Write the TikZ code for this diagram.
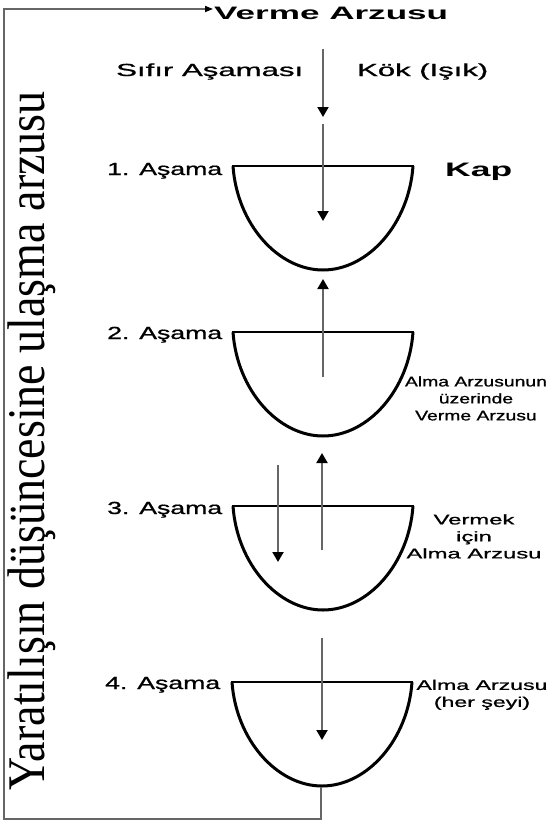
\documentclass[tikz,border=0pt]{standalone}
\usepackage{fontspec}
\setmainfont{Liberation Sans}
\newfontfamily\heavysans[FakeBold=0.8]{Liberation Sans}
\newfontfamily\serifrot{Liberation Serif}
\usetikzlibrary{arrows.meta}
\newcommand{\wbox}[2]{\resizebox{#1}{\height}{#2}}
\newcommand{\drawcup}[2]{%
  \draw[cupline] (#1-90,#2) .. controls (#1-86,#2+58) and (#1-45,#2+104) .. (#1,#2+104)
     .. controls (#1+45,#2+104) and (#1+86,#2+58) .. (#1+90,#2);
  \draw[rimline] (#1-91,#2) -- (#1+91,#2);}
\begin{document}
\begin{tikzpicture}[x=1pt,y=-1pt,
  cupline/.style={line width=3pt,black},
  rimline/.style={line width=2pt,black},
  flow/.style={draw=black!60,line width=2pt,-{Triangle[length=10pt,width=11pt,color=black]}},
  frameline/.style={draw=black!60,line width=1.5pt},
  lab/.style={inner sep=0pt,font=\heavysans\fontsize{17.5}{20}\selectfont},
  small/.style={inner sep=0pt,font=\heavysans\fontsize{14}{17}\selectfont}]
\fill[white] (0,0) rectangle (549,822);
\useasboundingbox (0,0) rectangle (549,822);

% cups
\drawcup{323}{166}
\drawcup{323}{332}
\drawcup{323}{506}
\drawcup{322}{682}

% coordinates
\coordinate (a0s) at (323,49);
\coordinate (a0e) at (323,117);
\coordinate (a1s) at (323,124);
\coordinate (a1e) at (323,221);
\coordinate (a2s) at (323,377);
\coordinate (a2e) at (323,279);
\coordinate (a3s) at (278,465);
\coordinate (a3e) at (278,562);
\coordinate (a4s) at (322,550);
\coordinate (a4e) at (322,453);
\coordinate (a5s) at (322,638);
\coordinate (a5e) at (322,740);
\coordinate (c4b) at (321,787);
\coordinate (fbr) at (321,819);
\coordinate (fbl) at (4,819);
\coordinate (ftl) at (4,9);
\coordinate (ftip) at (213,9);

% arrows
\draw[flow] (a0s) -- (a0e);
\draw[flow] (a1s) -- (a1e);
\draw[flow] (a2s) -- (a2e);
\draw[flow] (a3s) -- (a3e);
\draw[flow] (a4s) -- (a4e);
\draw[flow] (a5s) -- (a5e);

% frame
\draw[frameline,-{Triangle[length=8pt,width=6pt,color=black]}] (c4b) -- (fbr) -- (fbl) -- (ftl) -- (ftip);

% labels
\node[lab,anchor=base west,font=\rmfamily\bfseries\fontsize{18}{20}\selectfont] (title) at (214,19) {\wbox{234pt}{Verme Arzusu}};
\node[lab,anchor=base west] (zero) at (116,76) {\wbox{187pt}{Sıfır Aşaması}};
\node[lab,anchor=base west] (root) at (357,76) {\wbox{131pt}{Kök (Işık)}};
\node[lab,anchor=base west] (s1) at (107,175) {\wbox{115pt}{1. Aşama}};
\node[lab,anchor=base west] (s2) at (107,339) {\wbox{115pt}{2. Aşama}};
\node[lab,anchor=base west] (s3) at (107,514) {\wbox{115pt}{3. Aşama}};
\node[lab,anchor=base west] (s4) at (105,689) {\wbox{115pt}{4. Aşama}};
\node[lab,anchor=base west,font=\rmfamily\bfseries\fontsize{19.5}{22}\selectfont] (kap) at (445,176) {\wbox{67pt}{Kap}};

\node[small] (d2) at (476,400) {\wbox{142pt}{\begin{tabular}{@{}c@{}}Alma Arzusunun\\üzerinde\\Verme Arzusu\end{tabular}}};
\node[small] (d3) at (474,538) {\wbox{135pt}{\begin{tabular}{@{}c@{}}Vermek\\için\\Alma Arzusu\end{tabular}}};
\node[small] (d4) at (482,695) {\wbox{131pt}{\begin{tabular}{@{}c@{}}Alma Arzusu\\(her şeyi)\end{tabular}}};

% side text
\node[rotate=90,anchor=base,inner sep=0pt,font=\serifrot\fontsize{46}{50}\selectfont] (side) at (44,441)
  {\scalebox{1}[1.15]{Yaratılışın düşüncesine ulaşma arzusu}};
\end{tikzpicture}
\end{document}
